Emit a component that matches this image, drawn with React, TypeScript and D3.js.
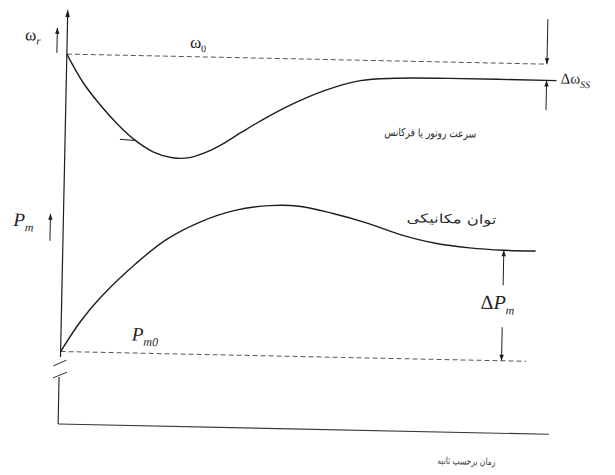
import React from "react";
import * as d3 from "d3";

// Time axis (arbitrary seconds) and the two transient responses
const timeSpeed = [0, 0.35, 0.7, 1.05, 1.4, 1.8, 2.2, 2.55, 2.9, 3.25, 3.6, 4.0, 4.6, 5.3, 6.0, 6.7, 7.8, 10];
const speedDev = [0, -0.28, -0.49, -0.67, -0.82, -0.94, -0.995, -0.99, -0.93, -0.84, -0.73, -0.61, -0.45, -0.3, -0.2, -0.17, -0.16, -0.16];

const timePower = [0, 0.4, 0.8, 1.5, 2.1, 2.8, 3.5, 4.2, 4.8, 5.5, 6.2, 6.9, 7.6, 8.3, 9.0, 9.65];
const powerDev = [0, 0.28, 0.5, 0.81, 1.03, 1.2, 1.31, 1.36, 1.36, 1.3, 1.22, 1.12, 1.05, 1.015, 1.0, 1.0];

// Reference levels and where the deviation markers sit on the time axis
const speedRef = 0; // ω0
const speedSteady = -0.16;
const powerRef = 0; // Pm0
const powerSteady = 1;
const tSpeedMarker = 9.8;
const tPowerMarker = 9.0;
const tRefEnd = 9.8;
const tPowerRefEnd = 9.5;
const tEnd = 10;

const labels = {
  speed: "سرعت روتور یا فرکانس",
  power: "توان مکانیکی",
  time: "زمان برحسب ثانیه",
};

const INK = "#1e1e1e";
const DASH = "#555";
const SERIF = "'Liberation Serif', 'DejaVu Serif', serif";
const ARABIC = "'DejaVu Sans', sans-serif";

function Arrow({ x, y1, y2, head }: { x: number; y1: number; y2: number; head: "start" | "end" }) {
  // vertical line from y1 to y2 with a small filled head at one end
  const hy = head === "end" ? y2 : y1;
  const other = head === "end" ? y1 : y2;
  const dir = Math.sign(hy - other) || 1;
  const len = 6;
  const w = 2.2;
  return (
    <g>
      <line x1={x} x2={x} y1={y1} y2={y2} stroke={INK} strokeWidth={1} />
      <path d={`M${x},${hy} L${x - w},${hy - dir * len} L${x + w},${hy - dir * len} Z`} fill={INK} />
    </g>
  );
}

export default function App() {
  const x = d3.scaleLinear().domain([0, 10]).range([63, 553]);
  const yW = d3.scaleLinear().domain([-1, 0]).range([161, 59]);
  const yP = d3.scaleLinear().domain([0, 1]).range([356.5, 246]);

  const speedLine = d3
    .line<number>()
    .x((_, i) => x(timeSpeed[i]))
    .y((d) => yW(d))
    .curve(d3.curveCatmullRom.alpha(0.5))(speedDev) as string;

  const powerLine = d3
    .line<number>()
    .x((_, i) => x(timePower[i]))
    .y((d) => yP(d))
    .curve(d3.curveCatmullRom.alpha(0.5))(powerDev) as string;

  const x0 = x(0);
  const xAxisY = 429;

  return (
    <svg
      width={615}
      height={475}
      viewBox="0 0 615 475"
      style={{ position: "absolute", left: 0, top: 0, background: "#fff" }}
    >
      <rect width={615} height={475} fill="#fff" />
      <g transform="rotate(1.2 300 240)">
        {/* vertical axis, broken below the power reference */}
        <line x1={x0} x2={x0} y1={20} y2={362} stroke={INK} strokeWidth={1.2} />
        <path d={`M${x0},14 L${x0 - 2.3},22 L${x0 + 2.3},22 Z`} fill={INK} />
        <line x1={x0 - 7} y1={371} x2={x0 + 6} y2={365} stroke={INK} strokeWidth={1} />
        <line x1={x0 - 7} y1={383} x2={x0 + 7} y2={377} stroke={INK} strokeWidth={1} />
        <line x1={x0 - 1} x2={x0 - 1} y1={382} y2={xAxisY} stroke={INK} strokeWidth={1.1} />
        <line x1={x0 - 1} x2={x(tEnd)} y1={xAxisY} y2={xAxisY} stroke="#3a3a3a" strokeWidth={1.1} />

        {/* reference levels */}
        <line
          x1={x0}
          x2={x(tRefEnd)}
          y1={yW(speedRef)}
          y2={yW(speedRef)}
          stroke={DASH}
          strokeWidth={1}
          strokeDasharray="5 3"
        />
        <line
          x1={x0}
          x2={x(tPowerRefEnd)}
          y1={yP(powerRef)}
          y2={yP(powerRef)}
          stroke={DASH}
          strokeWidth={1}
          strokeDasharray="5 3"
        />

        {/* responses */}
        <path d={speedLine} fill="none" stroke={INK} strokeWidth={1.4} />
        <path d={powerLine} fill="none" stroke={INK} strokeWidth={1.4} />
        <line x1={x(1.12)} x2={x(1.42)} y1={143} y2={144} stroke={INK} strokeWidth={1} />

        {/* Δω_ss marker */}
        <Arrow x={x(tSpeedMarker)} y1={14} y2={yW(speedRef)} head="end" />
        <Arrow x={x(tSpeedMarker)} y1={yW(speedSteady)} y2={105} head="start" />
        <text x={x(tSpeedMarker) + 14} y={78} fontFamily={SERIF} fontSize={15} fill={INK}>
          Δω
          <tspan fontSize={10} fontStyle="italic" dy={4}>
            SS
          </tspan>
        </text>

        {/* ΔPm marker */}
        <Arrow x={x(tPowerMarker)} y1={yP(powerSteady)} y2={281} head="start" />
        <Arrow x={x(tPowerMarker)} y1={323} y2={yP(powerRef)} head="end" />
        <text x={x(tPowerMarker) - 22} y={305} fontFamily={SERIF} fontSize={20} fill={INK}>
          Δ<tspan fontStyle="italic">P</tspan>
          <tspan fontSize={12} fontStyle="italic" dy={5}>
            m
          </tspan>
        </text>

        {/* axis quantity labels */}
        <text x={21} y={46} fontFamily={SERIF} fontSize={17} fill={INK}>
          ω
          <tspan fontSize={11} fontStyle="italic" dy={4}>
            r
          </tspan>
        </text>
        <Arrow x={53} y1={58} y2={33} head="end" />
        <text x={186} y={50} fontFamily={SERIF} fontSize={17} fill={INK}>
          ω
          <tspan fontSize={10} dy={4}>
            0
          </tspan>
        </text>

        <text x={13} y={232} fontFamily={SERIF} fontSize={19} fontStyle="italic" fill={INK}>
          P
          <tspan fontSize={12} dy={5}>
            m
          </tspan>
        </text>
        <Arrow x={50} y1={246} y2={219} head="end" />
        <text x={134} y={344} fontFamily={SERIF} fontSize={19} fontStyle="italic" fill={INK}>
          P
          <tspan fontSize={12} dy={5}>
            m0
          </tspan>
        </text>

        {/* curve captions */}
        <text
          x={428}
          y={134}
          fontFamily={ARABIC}
          fontSize={11}
          textAnchor="middle"
          textLength={92}
          lengthAdjust="spacingAndGlyphs"
          fill="#2a2a2a"
        >
          {labels.speed}
        </text>
        <text
          x={451}
          y={220}
          fontFamily={ARABIC}
          fontSize={12.5}
          textAnchor="middle"
          textLength={90}
          lengthAdjust="spacingAndGlyphs"
          fill="#2a2a2a"
        >
          {labels.power}
        </text>
        <text
          x={471}
          y={461}
          fontFamily={ARABIC}
          fontSize={10}
          textAnchor="middle"
          textLength={58}
          lengthAdjust="spacingAndGlyphs"
          fill="#3a3a3a"
        >
          {labels.time}
        </text>
      </g>
    </svg>
  );
}
